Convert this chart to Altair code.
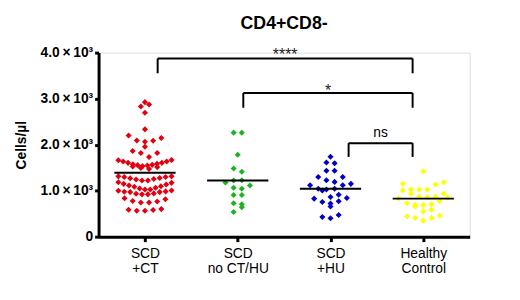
import altair as alt
import numpy as np
import pandas as pd

# ---------------- data ----------------
groups = ["SCD +CT", "SCD no CT/HU", "SCD +HU", "Healthy Control"]
label_lines = [["SCD", "+CT"], ["SCD", "no CT/HU"], ["SCD", "+HU"], ["Healthy", "Control"]]
colors = ["#e3000f", "#1fb21f", "#0000c8", "#ffff00"]

scd_ct = [2924, 2873, 2830, 2695, 2332, 2197, 2145, 2090, 2085, 2064, 1953, 1861,
          1818, 1818, 1733, 1668, 1662,
          1632, 1604, 1576, 1555, 1533, 1512, 1469, 1491, 1525, 1547, 1561, 1583, 1604, 1632,
          1311, 1298, 1268, 1241, 1219, 1170, 1112, 1134, 1148, 1183, 1219, 1255, 1277, 1298, 1311,
          1084, 1048, 1027, 999, 978, 969, 969, 984, 1005, 1027, 1063, 1097,
          941, 920, 934, 920,
          742, 834, 777, 763, 813, 742,
          599, 578, 563, 563, 585]
scd_no = [2261, 2261, 1782, 1482, 1412, 1219, 1176, 1226, 1041, 1112, 1063,
          905, 905, 727, 706, 642, 535]
scd_hu = [1739, 1597, 1611, 1433, 1433, 1298, 1298, 1226, 1191, 1119, 1119, 1148,
          1041, 1005, 1027, 1041, 841, 862, 913, 827, 770, 720, 755, 657, 471, 400, 428]
healthy = [1418, 1183, 1134, 1148, 1027, 1005, 1027, 1027, 934, 934, 870, 849, 777,
           706, 834, 862, 870, 691, 657, 691, 727, 584, 550, 456, 406, 349, 406, 443]
center_lines = [1390, 1219, 1041, 827]

# significance brackets (x in category units, y in cells/µl)
br_left = [0.137, 1.06, 2.195]
br_right = [2.885, 2.885, 2.885]
br_top = [3872, 3123, 2032]
br_bottom = [3551, 2802, 1733]
br_text = ["****", "*", "ns"]
br_text_y = [3830, 3060, 2170]

# ---------------- layout helpers ----------------
PLOT_W, PLOT_H = 377, 187
PX_PER_UNIT = PLOT_W / 4.0


def swarm(values, bin_h=170.0, s0=8.3, max_w=54.0):
    """Prism-like scatter layout: bin by value, spread each bin centre-out."""
    v = np.asarray(values, float)
    order = np.argsort(v, kind="stable")
    bins = {}
    for i in order:
        bins.setdefault(int(np.floor(v[i] / bin_h)), []).append(i)
    offs = np.zeros(len(v))
    for bi, (b, idx) in enumerate(sorted(bins.items())):
        n = len(idx)
        s = s0 if n == 1 else min(s0, max_w / (n - 1))
        sign = 1 if bi % 2 == 0 else -1
        for k, i in enumerate(idx):
            if n % 2 == 1:
                slot = 0 if k == 0 else ((k + 1) // 2) * (-1 if k % 2 == 1 else 1)
            else:
                m = k // 2 + 0.5
                slot = -m if k % 2 == 0 else m
            offs[i] = sign * slot * s
    return offs / PX_PER_UNIT


rows = []
for gi, vals in enumerate([scd_ct, scd_no, scd_hu, healthy]):
    for v, o in zip(vals, swarm(vals)):
        rows.append({"group": groups[gi], "x": gi + o, "value": v})
pts = pd.DataFrame(rows)

lines = pd.DataFrame({"x1": [i - 0.33 for i in range(4)],
                      "x2": [i + 0.33 for i in range(4)],
                      "y": center_lines})
br = pd.DataFrame({"l": br_left, "r": br_right, "top": br_top, "bot": br_bottom,
                   "t": br_text, "ty": br_text_y})
br["mid"] = (br["l"] + br["r"]) / 2

FONT = "Liberation Sans"
xs = alt.Scale(domain=[-0.5, 3.5], nice=False, zero=False)
ys = alt.Scale(domain=[0, 4000], nice=False)

x_label_expr = "[" + ",".join("['%s','%s']" % (a, b) for a, b in label_lines) + "][datum.value]"
y_label_expr = "datum.value == 0 ? '0' : format(datum.value/1000, '.1f') + '\u2009×\u200910³'"

x_axis = alt.Axis(values=[0, 1, 2, 3], labelExpr=x_label_expr, title=None, grid=False,
                  labelFont=FONT, labelFontSize=14, labelColor="black", labelLineHeight=15,
                  labelPadding=5, domainColor="black", domainWidth=3,
                  tickColor="black", tickWidth=3, tickSize=5)
y_axis = alt.Axis(values=[0, 1000, 2000, 3000, 4000], labelExpr=y_label_expr,
                  title="Cells/µl", titleFont=FONT, titleFontSize=14, titleFontWeight="bold",
                  titleColor="black", titlePadding=12, grid=False,
                  labelFont=FONT, labelFontSize=14, labelFontWeight="bold", labelColor="black",
                  labelPadding=2, domainColor="black", domainWidth=3,
                  tickColor="black", tickWidth=3, tickSize=4)

points = alt.Chart(pts).mark_point(shape="diamond", filled=True, size=38, opacity=1).encode(
    x=alt.X("x:Q", scale=xs, axis=x_axis),
    y=alt.Y("value:Q", scale=ys, axis=y_axis),
    color=alt.Color("group:N", scale=alt.Scale(domain=groups, range=colors), legend=None),
)

center = alt.Chart(lines).mark_rule(color="black", strokeWidth=2).encode(
    x=alt.X("x1:Q", scale=xs), x2="x2:Q", y=alt.Y("y:Q", scale=ys))

br_h = alt.Chart(br).mark_rule(color="black", strokeWidth=2).encode(
    x=alt.X("l:Q", scale=xs), x2="r:Q", y=alt.Y("top:Q", scale=ys))
br_vl = alt.Chart(br).mark_rule(color="black", strokeWidth=2).encode(
    x=alt.X("l:Q", scale=xs), y=alt.Y("top:Q", scale=ys), y2="bot:Q")
br_vr = alt.Chart(br).mark_rule(color="black", strokeWidth=2).encode(
    x=alt.X("r:Q", scale=xs), y=alt.Y("top:Q", scale=ys), y2="bot:Q")

stars = alt.Chart(br).transform_filter("datum.t != 'ns'").mark_text(
    font=FONT, fontSize=16, color="#222", baseline="alphabetic", align="center").encode(
    x=alt.X("mid:Q", scale=xs), y=alt.Y("ty:Q", scale=ys), text="t:N")
ns = alt.Chart(br).transform_filter("datum.t == 'ns'").mark_text(
    font=FONT, fontSize=14, color="black", baseline="alphabetic", align="center").encode(
    x=alt.X("mid:Q", scale=xs), y=alt.Y("ty:Q", scale=ys), text="t:N")

chart = alt.layer(points, center, br_h, br_vl, br_vr, stars, ns).properties(
    width=PLOT_W, height=PLOT_H,
    title=alt.Title("CD4+CD8-", font=FONT, fontSize=18, fontWeight="bold", color="black",
                    anchor="middle", offset=13),
    autosize=alt.AutoSizeParams(type="none"),
    padding={"left": 92, "top": 43, "right": 43, "bottom": 62},
).configure_view(stroke=None).configure(background="white")

chart.save("out.html", embed_options={"renderer": "svg", "actions": False})
